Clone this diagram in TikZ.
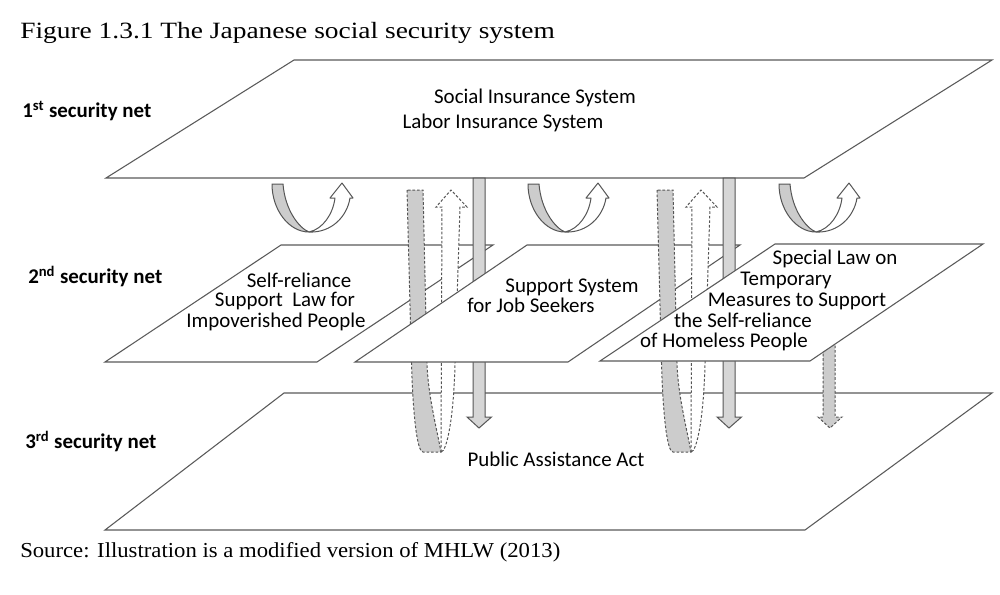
\documentclass[tikz,border=0pt]{standalone}
\usepackage{fontspec}
\usepackage{graphicx}
\setmainfont{Liberation Serif}
\newfontfamily\carlito{Carlito}
\definecolor{edge}{HTML}{5A5A5A}
\definecolor{barline}{HTML}{555555}
\definecolor{barfill}{HTML}{D6D6D6}
\definecolor{bandfill}{HTML}{CCCCCC}
\newcommand\uarrow[2]{%
  \begin{scope}[shift={(#1,#2)}]
    \filldraw[uwhite] (0,0) .. controls (22,1) and (38,-15) .. (41,-34) -- (44,-34) -- (33,-49) -- (21,-34) -- (26,-34) .. controls (24,-18) and (14,-3) .. (0,0) -- cycle;
    \filldraw[ugray] (-37,-48) .. controls (-37,-22) and (-20,0) .. (0,0) .. controls (-10,-4) and (-24,-22) .. (-26,-48) -- cycle;
  \end{scope}}
\newcommand\vgroup[1]{%
  \begin{scope}[shift={(#1,0)}]
    \filldraw[dband] (407,190) -- (411.5,363) .. controls (413,415) and (417,452) .. (423,452) -- (441,452) .. controls (436,425) and (428,395) .. (427,363) -- (423,190) -- cycle;
    \filldraw[dwhite] (441,452) -- (442,207) -- (436,207) -- (451,190) -- (467,207) -- (460,207) -- (455,363) .. controls (454,415) and (447,452) .. (441,452) -- cycle;
    \filldraw[sbar] (473,178) -- (473,417) -- (467,417) -- (479,428) -- (491.5,417) -- (485,417) -- (485,178) -- cycle;
  \end{scope}}
\begin{document}
\begin{tikzpicture}[x=0.75pt,y=-0.75pt,
  plane/.style={draw=edge,line width=0.8pt,fill=white,line join=miter},
  uwhite/.style={draw=barline,line width=0.75pt,fill=white,line join=round},
  ugray/.style={draw=barline,line width=0.75pt,fill=bandfill,line join=round},
  sbar/.style={draw=barline,line width=0.75pt,fill=barfill},
  dband/.style={draw=barline,line width=0.75pt,fill=bandfill,dash pattern=on 2pt off 1.4pt},
  dwhite/.style={draw=barline,line width=0.75pt,fill=white,dash pattern=on 2pt off 1.4pt},
  lab/.style={font=\carlito\fontsize{15.7}{18}\selectfont,inner sep=0pt,anchor=base},
  netlab/.style={font=\carlito\bfseries\fontsize{15.7}{18}\selectfont,inner sep=0pt,anchor=base west}]
\fill[white] (0,0) rectangle (1000,594);
\useasboundingbox (0,0) rectangle (1000,594);
% planes and arrows, back to front
\draw[plane] (105,530) -- (284,393) -- (992,393) -- (805,530) -- cycle;
\draw[plane] (106,178) -- (294,60) -- (992,60) -- (804,178) -- cycle;
\uarrow{309}{232}
\uarrow{565}{232}
\uarrow{816}{232}
\draw[plane] (105,362) -- (281,245) -- (493,245) -- (317,362) -- cycle;
\vgroup{0}
\draw[plane] (355,362) -- (527,245) -- (740,245) -- (568,362) -- cycle;
\vgroup{250}
\filldraw[dband] (823,340) -- (823,417) -- (818,417) -- (830,428) -- (842,417) -- (835,417) -- (835,340) -- cycle;
\draw[plane] (600,361) -- (775,244) -- (983,244) -- (810,361) -- cycle;
% texts
\node[anchor=base west,inner sep=0pt] (title) at (20,38) {\resizebox{401pt}{\height}{\fontsize{17.5}{20}\selectfont Figure 1.3.1 The Japanese social security system}};
\node[anchor=base west,inner sep=0pt] (source) at (20,557) {\resizebox{405pt}{\height}{\fontsize{16}{18}\selectfont Source: Illustration is a modified version of MHLW (2013)}};
\node[netlab] (net1) at (22,117) {1\textsuperscript{st} security net};
\node[netlab] (net2) at (28,283) {2\textsuperscript{nd} security net};
\node[netlab] (net3) at (25,448) {3\textsuperscript{rd} security net};
\node[lab] (sis) at (535,103) {Social Insurance System};
\node[lab] (lis) at (503,128) {Labor Insurance System};
\node[lab] (a1) at (299,287) {Self-reliance};
\node[lab] (a2) at (285,306) {Support\ \ Law for};
\node[lab] (a3) at (276,327) {Impoverished People};
\node[lab] (b1) at (572,292) {Support System};
\node[lab] (b2) at (531,312) {for Job Seekers};
\node[lab] (c1) at (835,264) {Special Law on};
\node[lab] (c2) at (786,285) {Temporary};
\node[lab] (c3) at (797,306) {Measures to Support};
\node[lab] (c4) at (743,327) {the Self-reliance};
\node[lab] (c5) at (724,347) {of Homeless People};
\node[lab] (paa) at (556,466) {Public Assistance Act};
\end{tikzpicture}
\end{document}
